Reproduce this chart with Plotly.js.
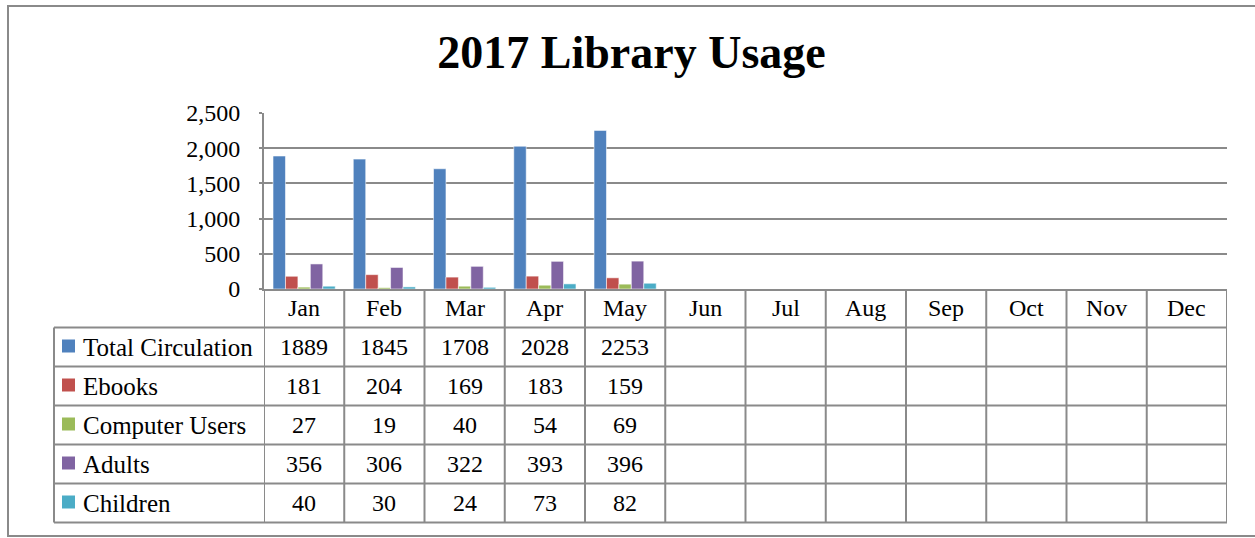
<!DOCTYPE html>
<html>
<head>
<meta charset="utf-8">
<script src="https://cdn.plot.ly/plotly-3.0.1.min.js"></script>
<style>html,body{margin:0;padding:0;background:#fff;}#chart{width:1255px;height:538px;}</style>
</head>
<body>
<div id="chart"></div>
<script>
// ---- Data ----
const months = ['Jan','Feb','Mar','Apr','May','Jun','Jul','Aug','Sep','Oct','Nov','Dec'];
const seriesNames = ['Total Circulation','Ebooks','Computer Users','Adults','Children'];
const totalCirculation = [1889,1845,1708,2028,2253,null,null,null,null,null,null,null];
const ebooks = [181,204,169,183,159,null,null,null,null,null,null,null];
const computerUsers = [27,19,40,54,69,null,null,null,null,null,null,null];
const adults = [356,306,322,393,396,null,null,null,null,null,null,null];
const children = [40,30,24,73,82,null,null,null,null,null,null,null];
const seriesColors = ['#4F81BD','#C0504D','#9BBB59','#8064A2','#4BACC6'];
const yTickVals = [0,500,1000,1500,2000,2500];

// ---- Layout geometry (pixels) ----
const W = 1255, H = 538;
const plotL = 264, plotR = 1227, plotT = 113, plotB = 289;
const rowH = 39;
const headerBottom = 327.5;
const tableLeft = 54;
const FONT = 'Liberation Serif';
const GRID = '#8a8a8a';

const px = p => (p - plotL) / (plotR - plotL);
const py = p => (plotB - p) / (plotB - plotT);

const allSeries = [totalCirculation, ebooks, computerUsers, adults, children];

const traces = allSeries.map((vals, i) => ({
  type: 'bar',
  name: seriesNames[i],
  x: months,
  y: vals,
  marker: {color: seriesColors[i], line: {color: 'rgba(255,255,255,0.55)', width: 1}},
  hoverinfo: 'x+y+name'
}));

const shapes = [];
const annotations = [];
const tableBottom = headerBottom + rowH * seriesNames.length;
const lineStyle = {color: GRID, width: 2};
const textFont = {family: FONT, size: 24, color: '#000'};
const nameFont = {family: FONT, size: 25, color: '#000'};

// horizontal table lines
for (let r = 0; r <= seriesNames.length; r++) {
  const yy = headerBottom + r * rowH;
  shapes.push({type: 'line', xref: 'paper', yref: 'paper', x0: px(tableLeft), x1: px(plotR), y0: py(yy), y1: py(yy), line: lineStyle});
}
// vertical month lines
for (let c = 0; c <= months.length; c++) {
  shapes.push({type: 'line', xref: 'x', yref: 'paper', x0: c - 0.5, x1: c - 0.5, y0: 0, y1: py(tableBottom), line: lineStyle});
}
// left table edge
shapes.push({type: 'line', xref: 'paper', yref: 'paper', x0: px(tableLeft), x1: px(tableLeft), y0: py(headerBottom), y1: py(tableBottom), line: lineStyle});
// outer chart border
shapes.push({type: 'rect', xref: 'paper', yref: 'paper', x0: px(8), x1: px(1258), y0: py(6), y1: py(536), line: {color: GRID, width: 2}});

// month header labels
months.forEach(m => {
  annotations.push({xref: 'x', yref: 'paper', x: m, y: py((plotB + headerBottom) / 2), xanchor: 'center', yanchor: 'middle', text: m, showarrow: false, font: textFont});
});

// rows: legend keys, names, values
seriesNames.forEach((name, r) => {
  const yc = headerBottom + r * rowH + rowH / 2;
  shapes.push({type: 'rect', xref: 'paper', yref: 'paper', x0: px(62), x1: px(75), y0: py(yc - 7.5), y1: py(yc + 5.5), fillcolor: seriesColors[r], line: {width: 0}});
  annotations.push({xref: 'paper', yref: 'paper', x: px(81), y: py(yc), xanchor: 'left', yanchor: 'middle', text: name, showarrow: false, font: nameFont});
  allSeries[r].forEach((v, c) => {
    if (v === null) return;
    annotations.push({xref: 'x', yref: 'paper', x: months[c], y: py(yc), xanchor: 'center', yanchor: 'middle', text: String(v), showarrow: false, font: textFont});
  });
});

const layout = {
  width: W, height: H,
  margin: {l: plotL, r: W - plotR, t: plotT, b: H - plotB, pad: 0},
  paper_bgcolor: '#fff', plot_bgcolor: '#fff',
  font: {family: FONT},
  title: {text: '<b>2017 Library Usage</b>', font: {family: FONT, size: 46, color: '#000'}, xref: 'container', yref: 'container', x: 631.5 / W, y: 1 - 52 / H, xanchor: 'center', yanchor: 'middle'},
  showlegend: false,
  barmode: 'group', bargap: 0.225, bargroupgap: 0,
  xaxis: {type: 'category', categoryorder: 'array', categoryarray: months, range: [-0.5, 11.5],
    showline: true, linecolor: GRID, linewidth: 2, showgrid: false, ticks: '', showticklabels: false, fixedrange: true},
  yaxis: {range: [0, 2500], tickvals: yTickVals, tickformat: ',', showline: true, linecolor: GRID, linewidth: 2,
    showgrid: true, gridcolor: GRID, gridwidth: 2, zeroline: false, ticks: 'outside', ticklen: 3, tickcolor: GRID, tickwidth: 2,
    tickfont: textFont, ticklabelstandoff: 14, fixedrange: true},
  shapes: shapes,
  annotations: annotations
};

Plotly.newPlot('chart', traces, layout, {displayModeBar: false, staticPlot: true});
</script>
</body>
</html>
